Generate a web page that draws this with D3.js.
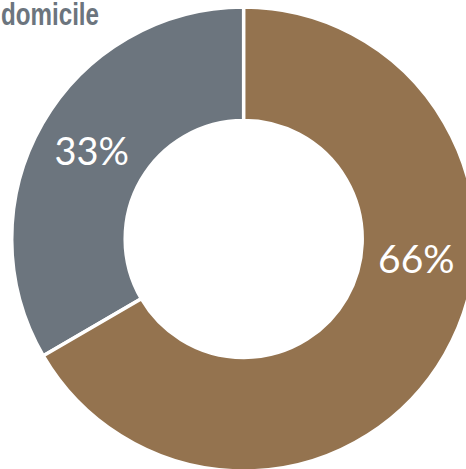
<!DOCTYPE html>
<html>
<head>
<meta charset="utf-8">
<script src="https://cdn.jsdelivr.net/npm/d3@7"></script>
<style>
html, body { margin: 0; padding: 0; background: #fff; overflow: hidden; }
svg { display: block; }
</style>
</head>
<body>
<svg id="chart" width="466" height="469"></svg>
<script>
const title = "domicile";
const categories = ["Gray", "Brown"];
const values = [33.3, 66.4];
const labels = ["33%", "66%"];
const colors = ["#6c757e", "#94734f"];

const svg = d3.select("#chart");
const cx = 243.7, cy = 239, outerR = 232, innerR = 118.5;

const data = categories.map((c, i) => ({ name: c, value: values[i], label: labels[i], color: colors[i] }));

const total = d3.sum(values);
const pie = d3.pie().sort(null).value(d => d.value)
  .startAngle(-2 * Math.PI * values[0] / total)
  .endAngle(2 * Math.PI - 2 * Math.PI * values[0] / total);
const arcs = pie(data);
const arc = d3.arc().innerRadius(innerR).outerRadius(outerR);

const g = svg.append("g").attr("transform", `translate(${cx},${cy})`);
g.selectAll("path").data(arcs).join("path")
  .attr("d", arc)
  .attr("fill", d => d.data.color)
  .attr("stroke", "#fff")
  .attr("stroke-width", 3.5)
  .attr("stroke-linejoin", "miter");

const labelAngleOffset = [0, -0.41];
const labelFontSize = [38, 39];
g.selectAll("text.lbl").data(arcs).join("text")
  .attr("class", "lbl")
  .attr("transform", (d, i) => {
    const a = (d.startAngle + d.endAngle) / 2 + labelAngleOffset[i];
    const r = (innerR + outerR) / 2;
    return `translate(${r * Math.sin(a) - (i ? 1.5 : 0)},${-r * Math.cos(a)})`;
  })
  .attr("text-anchor", "middle")
  .attr("dy", "0.36em")
  .attr("fill", "#fff")
  .style("font-family", "Lato, 'Noto Sans', sans-serif")
  .style("font-weight", 400)
  .style("font-size", (d, i) => labelFontSize[i] + "px")
  .text(d => d.data.label);

svg.append("text")
  .attr("transform", "translate(1,25) scale(0.78,1)")
  .attr("fill", "#6c757e")
  .style("font-family", "'Liberation Sans', 'DejaVu Sans', sans-serif")
  .style("font-weight", 700)
  .style("font-size", "31px")
  .text(title);
</script>
</body>
</html>
